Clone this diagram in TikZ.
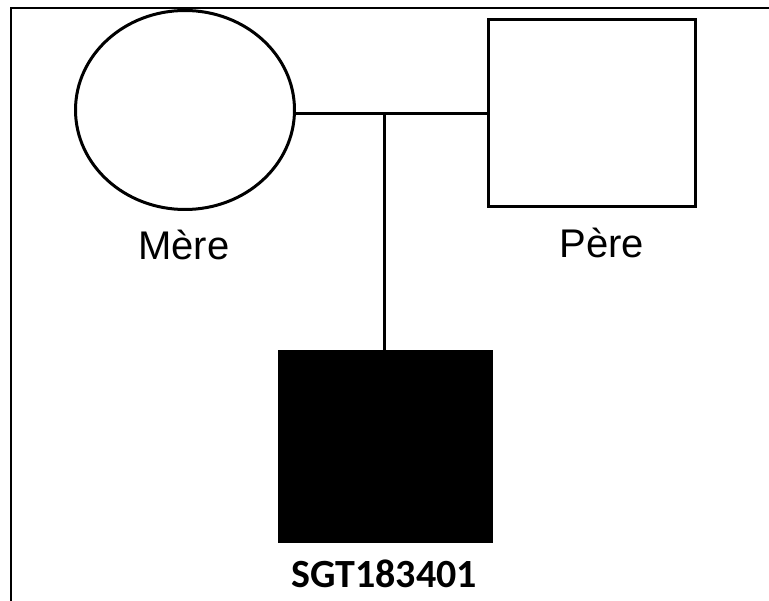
\documentclass[tikz,border=0pt]{standalone}
\usepackage{fontspec}
\setmainfont{Liberation Sans}
\newfontfamily\calfont{Carlito}
\usetikzlibrary{shapes.geometric}
\begin{document}
\begin{tikzpicture}[x=1pt,y=-1pt,
  member/.style={draw=black,line width=3pt,inner sep=0pt,outer sep=0pt},
  lbl/.style={anchor=base,inner sep=0pt,font=\fontsize{40}{44}\selectfont},
  link/.style={draw=black,line width=3pt}]
\useasboundingbox (0,0) rectangle (769,601);
\fill[white] (0,0) rectangle (769,601);
\draw[line width=2.4pt] (769,8) -- (11,8) -- (11,601);
\node[member,ellipse,minimum width=219pt,minimum height=199pt] (mere) at (185,110) {};
\node[member,rectangle,minimum width=207pt,minimum height=187pt] (pere) at (592,113) {};
\node[member,rectangle,fill=black,minimum width=212pt,minimum height=190pt] (child) at (385,447) {};
\node[lbl] (lmere) at (184,260) {Mère};
\node[lbl] (lpere) at (602,258) {Père};
\node[anchor=base,inner sep=0pt,font=\calfont\bfseries\fontsize{40}{44}\selectfont] (lchild) at (384,587) {SGT183401};
\coordinate (mid) at (384,114);
\draw[link] (mere.east |- mid) -- (pere.west |- mid);
\draw[link] (mid) -- (child.north -| mid);
\end{tikzpicture}
\end{document}
